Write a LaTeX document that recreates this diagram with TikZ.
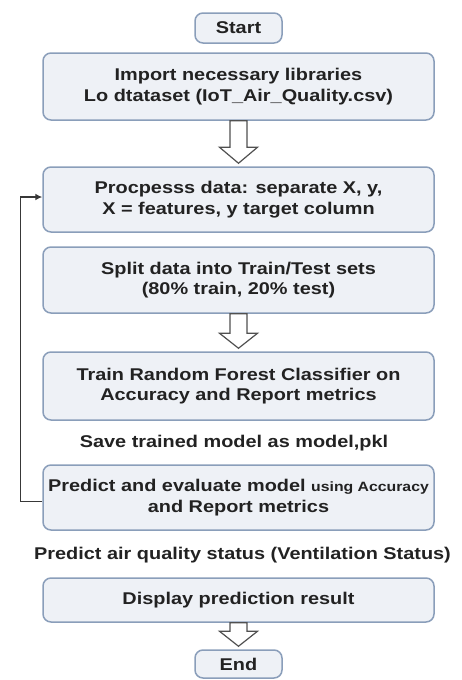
\documentclass[tikz,border=0pt]{standalone}
\usepackage{fontspec}
\setmainfont{Liberation Sans}[FakeStretch=1.17]
\usetikzlibrary{calc,arrows.meta}
\definecolor{boxfill}{RGB}{238,241,246}
\definecolor{boxline}{RGB}{138,158,186}
\definecolor{inkdark}{RGB}{34,34,34}
\definecolor{arrline}{RGB}{80,80,80}
\tikzset{
  x=1pt, y=1pt,
  stepbox/.style={draw=boxline, line width=1.5pt, fill=boxfill, rounded corners=8pt,
    minimum width=391pt, align=center, text=inkdark,
    font=\fontsize{17}{20.5}\selectfont\bfseries, inner sep=0pt},
  termbox/.style={stepbox, minimum width=87pt},
  plainlabel/.style={text=inkdark, font=\fontsize{17}{20.5}\selectfont\bfseries, inner sep=0pt},
  blockarr/.style={draw=arrline, line width=1.2pt, fill=white, line join=miter},
  loopline/.style={draw=inkdark!90, line width=1.5pt, -{Latex[length=7pt,width=7pt]}}
}
% hollow block arrow from the bottom of #1 down to the top of #2
\newcommand\flowarrow[3]{%
  \path[blockarr] let \p1=(#1.south), \p2=(#2.north) in
    (\x1-8.5,\y1) -- (\x1-8.5,\y2+#3) -- (\x1-19,\y2+#3) -- (\x1,\y2+3)
    -- (\x1+19,\y2+#3) -- (\x1+8.5,\y2+#3) -- (\x1+8.5,\y1) -- cycle;
}
\begin{document}
\begin{tikzpicture}
\useasboundingbox (0,0) rectangle (461,-680);

\node[termbox, minimum height=30pt] (start) at (238.5,-28) {Start};
\node[stepbox, minimum height=67pt] (load) at (238.5,-86.5)
  {Import necessary libraries\\Lo dtataset (IoT\_Air\_Quality.csv)};
\node[stepbox, minimum height=65pt] (prep) at (238.5,-199.5)
  {Procpesss data: separate X, y,\\ X = features, y target column};
\node[stepbox, minimum height=66pt] (split) at (238.5,-280)
  {Split data into Train/Test sets\\(80\% train, 20\% test)};
\node[stepbox, minimum height=68pt] (train) at (238.5,-386)
  {Train Random Forest Classifier on\\Accuracy and Report metrics};
\node[plainlabel] (save) at (234,-443) {Save trained model as model,pkl};
\node[stepbox, minimum height=65pt] (eval) at (238.5,-497.5)
  {Predict and evaluate model {\fontsize{13.5}{20.5}\selectfont using Accuracy}\\and Report metrics};
\node[plainlabel] (status) at (242.5,-555) {Predict air quality status (Ventilation Status)};
\node[stepbox, minimum height=44pt] (show) at (238.5,-600) {Display prediction result};
\node[termbox, minimum height=28pt] (end) at (238.5,-664) {End};

\flowarrow{load}{prep}{19}
\flowarrow{split}{train}{18}
\flowarrow{show}{end}{18}

% feedback loop from evaluation back to preprocessing
\coordinate (loopA) at ($(eval.west)+(0,-4)$);
\coordinate (loopB) at ($(prep.west)+(0,2.5)$);
\draw[loopline] (loopA) -- ++(-22,0) |- (loopB);
\end{tikzpicture}
\end{document}
